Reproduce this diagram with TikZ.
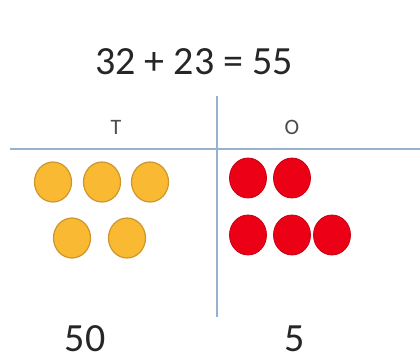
\documentclass[tikz,border=0pt]{standalone}
\usepackage{fontspec}
\setmainfont{Carlito}
\usetikzlibrary{shapes.geometric}
\definecolor{gridline}{RGB}{150,178,205}
\definecolor{tenfill}{RGB}{250,185,50}
\definecolor{tenedge}{RGB}{205,150,45}
\definecolor{onefill}{RGB}{236,0,22}
\definecolor{oneedge}{RGB}{200,0,20}
\begin{document}
\begin{tikzpicture}[x=1pt,y=-1pt,
  bigtext/.style={font=\fontsize{40}{46}\selectfont, text=black!85, inner sep=0pt, anchor=base},
  headtext/.style={font=\fontsize{22}{24}\selectfont, text=black!70, inner sep=0pt},
  tendisc/.style={ellipse, minimum width=37pt, minimum height=40pt, fill=tenfill, draw=tenedge, line width=1.2pt, inner sep=0pt},
  onedisc/.style={ellipse, minimum width=37pt, minimum height=40pt, fill=onefill, draw=oneedge, line width=0.8pt, inner sep=0pt},
  gridrule/.style={draw=gridline, line width=1.3pt}]
\useasboundingbox (0,0) rectangle (420,363);
\node[bigtext] (eq) at (194,75) {32 + 23 = 55};
\coordinate (vtop) at (217,96);
\coordinate (vbot) at (217,317);
\coordinate (hl) at (10,149);
\coordinate (hr) at (420,149);
\draw[gridrule] (vtop) -- (vbot);
\draw[gridrule] (hl) -- (hr);
\node[headtext] (T) at (116,127) {T};
\node[headtext] (O) at (292,127) {O};
\node[tendisc] (t1) at (53,182) {};
\node[tendisc] (t2) at (102,182) {};
\node[tendisc] (t3) at (150,182) {};
\node[tendisc] (t4) at (72,238) {};
\node[tendisc] (t5) at (127,238) {};
\node[onedisc] (o1) at (248,178) {};
\node[onedisc] (o2) at (292,178) {};
\node[onedisc] (o3) at (248,235) {};
\node[onedisc] (o4) at (292,235) {};
\node[onedisc] (o5) at (332,235) {};
\node[bigtext] (fifty) at (85,351) {50};
\node[bigtext] (five) at (295,351) {5};
\end{tikzpicture}
\end{document}
